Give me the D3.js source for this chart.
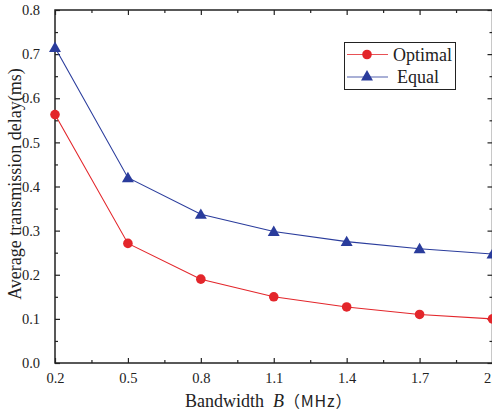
<!DOCTYPE html>
<html>
<head>
<meta charset="utf-8">
<script src="https://cdn.jsdelivr.net/npm/d3@7/dist/d3.min.js"></script>
<style>
  html, body { margin: 0; padding: 0; background: #fff; }
  svg { display: block; }
</style>
</head>
<body>
<svg id="chart" width="492" height="418"></svg>
<script>
// Bandwidth values (MHz) and the average transmission delay (ms) of each scheme
const bandwidth = [0.2, 0.5, 0.8, 1.1, 1.4, 1.7, 2.0];
const optimalDelay = [0.563, 0.271, 0.190, 0.150, 0.127, 0.110, 0.100];
const equalDelay = [0.715, 0.420, 0.337, 0.298, 0.275, 0.259, 0.247];
const xTicks = [0.2, 0.5, 0.8, 1.1, 1.4, 1.7, 2.0];
const xTickLabels = ["0.2", "0.5", "0.8", "1.1", "1.4", "1.7", "2.0"];
const yTicks = [0, 0.1, 0.2, 0.3, 0.4, 0.5, 0.6, 0.7, 0.8];
const seriesNames = ["Optimal", "Equal"];

const SERIF = "'Liberation Serif', 'Times New Roman', Times, serif";
const svg = d3.select("#chart");
const x = d3.scaleLinear().domain([0.2, 2.0]).range([55, 492.5]);
const y = d3.scaleLinear().domain([0, 0.8]).range([363, 10]);

const red = "#e3262b", blue = "#2a3c9c";
const axisColor = "#222";

// frame
svg.append("rect")
  .attr("x", x(0.2)).attr("y", y(0.8))
  .attr("width", x(2.0) - x(0.2)).attr("height", y(0) - y(0.8))
  .attr("fill", "none").attr("stroke", axisColor).attr("stroke-width", 1.5);

// minor tick positions at the midpoints
const xMinor = d3.range(0.35, 2.0, 0.3);
const yMinor = d3.range(0.05, 0.8, 0.1);

function styleAxis(g) {
  g.attr("font-family", SERIF).attr("font-size", 14.5);
  g.select(".domain").remove();
  g.selectAll(".tick line").attr("stroke", axisColor).attr("stroke-width", 1.2);
  g.selectAll(".tick text").attr("fill", "#222");
}

// bottom axis (ticks inward)
svg.append("g").attr("transform", `translate(0,${y(0)})`)
  .call(d3.axisBottom(x).tickValues(xTicks).tickFormat((d, i) => xTickLabels[i]).tickSizeInner(-5).tickSizeOuter(0).tickPadding(10))
  .call(styleAxis);
svg.append("g").attr("transform", `translate(0,${y(0)})`)
  .call(d3.axisBottom(x).tickValues(xMinor).tickFormat("").tickSizeInner(-3).tickSizeOuter(0))
  .call(styleAxis);
// top axis
svg.append("g").attr("transform", `translate(0,${y(0.8)})`)
  .call(d3.axisTop(x).tickValues(xTicks).tickFormat("").tickSizeInner(-5).tickSizeOuter(0))
  .call(styleAxis);
svg.append("g").attr("transform", `translate(0,${y(0.8)})`)
  .call(d3.axisTop(x).tickValues(xMinor).tickFormat("").tickSizeInner(-3).tickSizeOuter(0))
  .call(styleAxis);
// left axis
svg.append("g").attr("transform", `translate(${x(0.2)},0)`)
  .call(d3.axisLeft(y).tickValues(yTicks).tickFormat(d3.format(".1f")).tickSizeInner(-5).tickSizeOuter(0).tickPadding(15))
  .call(styleAxis);
svg.append("g").attr("transform", `translate(${x(0.2)},0)`)
  .call(d3.axisLeft(y).tickValues(yMinor).tickFormat("").tickSizeInner(-3).tickSizeOuter(0))
  .call(styleAxis);
// right axis
svg.append("g").attr("transform", `translate(${x(2.0)},0)`)
  .call(d3.axisRight(y).tickValues(yTicks).tickFormat("").tickSizeInner(-5).tickSizeOuter(0))
  .call(styleAxis);
svg.append("g").attr("transform", `translate(${x(2.0)},0)`)
  .call(d3.axisRight(y).tickValues(yMinor).tickFormat("").tickSizeInner(-3).tickSizeOuter(0))
  .call(styleAxis);

// series lines
const line = d3.line().x((d, i) => x(bandwidth[i])).y(d => y(d));
svg.append("path").datum(optimalDelay).attr("d", line)
  .attr("fill", "none").attr("stroke", red).attr("stroke-width", 1.1);
svg.append("path").datum(equalDelay).attr("d", line)
  .attr("fill", "none").attr("stroke", blue).attr("stroke-width", 1.1);

// markers
const tri = d3.symbol().type(d3.symbolTriangle).size(62);
svg.append("g").selectAll("circle").data(optimalDelay).join("circle")
  .attr("cx", (d, i) => x(bandwidth[i])).attr("cy", d => y(d)).attr("r", 4.8)
  .attr("fill", red);
svg.append("g").selectAll("path").data(equalDelay).join("path")
  .attr("d", tri)
  .attr("transform", (d, i) => `translate(${x(bandwidth[i])},${y(d) + 1})`)
  .attr("fill", blue);

// legend
const lg = svg.append("g");
lg.append("rect").attr("x", 344.5).attr("y", 42.5).attr("width", 111).attr("height", 47)
  .attr("fill", "#fff").attr("stroke", axisColor).attr("stroke-width", 1);
const legendRows = [
  { name: seriesNames[0], color: red, marker: "circle", cy: 54.5, tx: 393 },
  { name: seriesNames[1], color: blue, marker: "triangle", cy: 77, tx: 397 }
];
legendRows.forEach(r => {
  lg.append("line").attr("x1", 347).attr("x2", 388).attr("y1", r.cy).attr("y2", r.cy)
    .attr("stroke", r.color).attr("stroke-width", 1.1).attr("opacity", 0.8);
  if (r.marker === "circle") {
    lg.append("circle").attr("cx", 367).attr("cy", r.cy).attr("r", 4.8).attr("fill", r.color);
  } else {
    lg.append("path").attr("d", tri).attr("transform", `translate(367,${r.cy})`).attr("fill", r.color);
  }
  lg.append("text").attr("x", r.tx).attr("y", r.cy + 6)
    .attr("font-family", SERIF).attr("font-size", 18).attr("fill", "#222").text(r.name);
});

// axis titles
svg.append("text")
  .attr("transform", `translate(21,184) rotate(-90)`)
  .attr("text-anchor", "middle").attr("font-family", SERIF).attr("font-size", 18).attr("fill", "#222")
  .text("Average transmission delay(ms)");

const xt = svg.append("text").attr("x", 185).attr("y", 407)
  .attr("font-family", SERIF).attr("font-size", 18).attr("fill", "#222");
xt.append("tspan").text("Bandwidth");
xt.append("tspan").attr("dx", 9).attr("font-style", "italic").text("B");
xt.append("tspan").attr("font-family", "'Noto Sans CJK SC', 'DejaVu Sans', sans-serif")
  .attr("font-size", 16).attr("letter-spacing", 0.8).text("（MHz）");
</script>
</body>
</html>
